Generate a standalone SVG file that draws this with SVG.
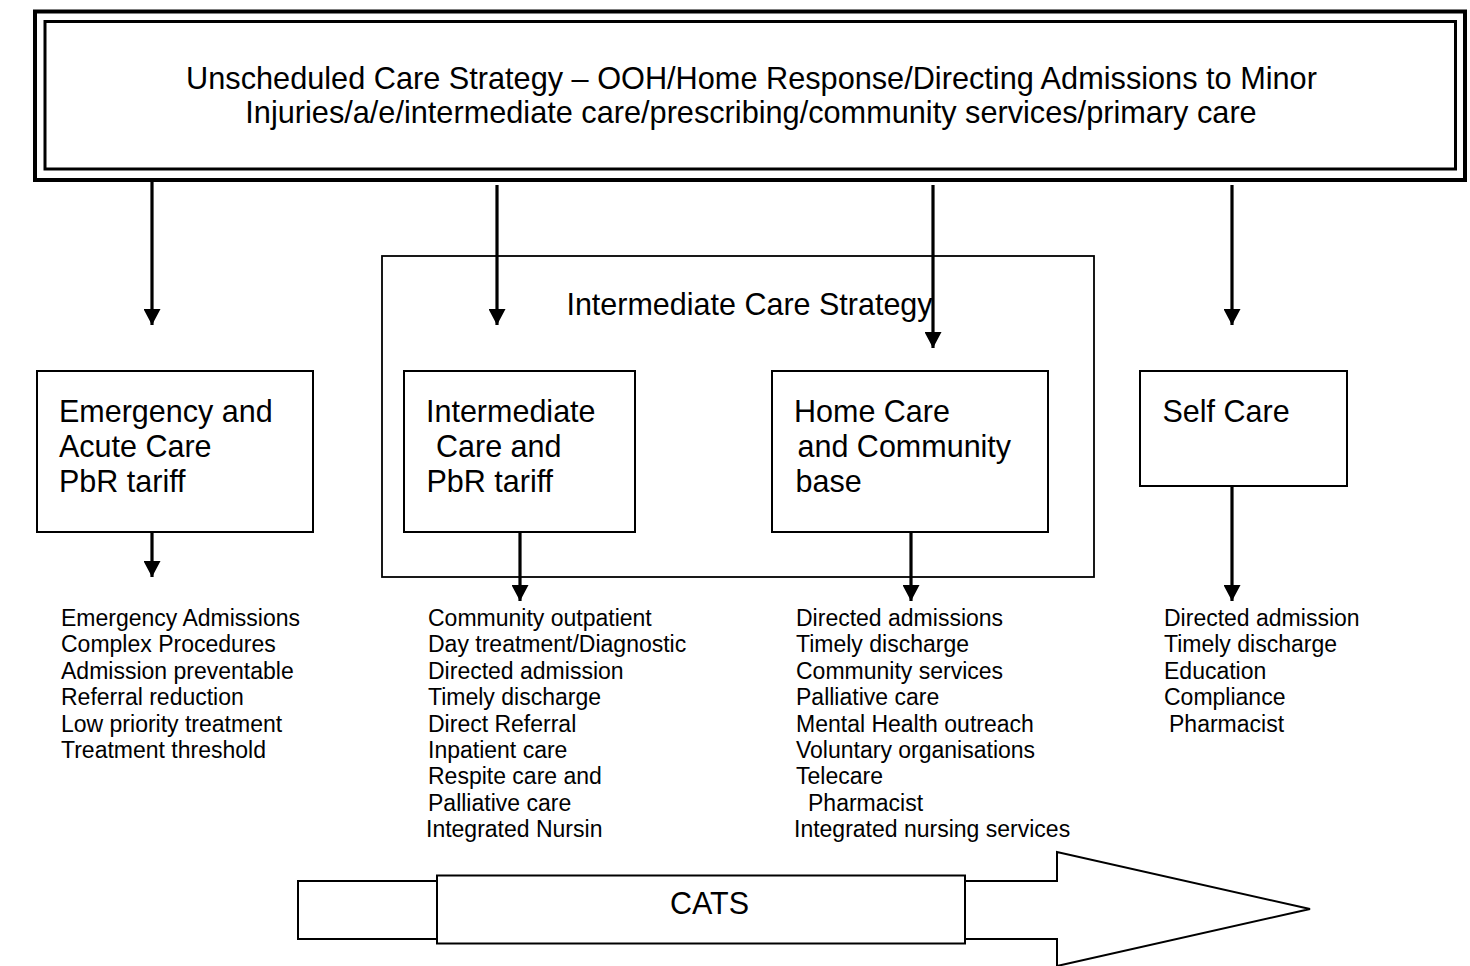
<svg xmlns="http://www.w3.org/2000/svg" width="1470" height="966" viewBox="0 0 1470 966">
<defs>
<style>
.t{font-family:"Liberation Sans",Arial,sans-serif;font-size:30.5px;fill:#000}
.h{font-family:"Liberation Sans",Arial,sans-serif;font-size:30.7px;fill:#000}
.l{font-family:"Liberation Sans",Arial,sans-serif;font-size:23px;fill:#000}
.box{fill:#fff;stroke:#000;stroke-width:2}
.con{stroke:#000;stroke-width:3.2;fill:none;marker-end:url(#ah)}
</style>
<marker id="ah" markerUnits="userSpaceOnUse" markerWidth="17" markerHeight="17" refX="16" refY="8.5" orient="auto" viewBox="0 0 16 17">
<path d="M0,0 L16,8.5 L0,17 z" fill="#000"/>
</marker>
</defs>
<rect width="1470" height="966" fill="#fff"/>

<g id="unscheduled">
<rect x="35" y="11.5" width="1430" height="168.5" fill="#fff" stroke="#000" stroke-width="4"/>
<rect x="45" y="21.5" width="1410.5" height="147.5" fill="none" stroke="#000" stroke-width="3"/>
<text class="h" x="751.5" y="89" text-anchor="middle">Unscheduled Care Strategy – OOH/Home Response/Directing Admissions to Minor</text>
<text class="h" x="751" y="123" text-anchor="middle">Injuries/a/e/intermediate care/prescribing/community services/primary care</text>
</g>

<g id="intermediate-strategy">
<rect x="382" y="256" width="712" height="321" fill="none" stroke="#000" stroke-width="1.8"/>
<text class="t" x="749.5" y="315" text-anchor="middle">Intermediate Care Strategy</text>
</g>

<g id="emergency">
<rect class="box" x="37" y="371" width="276" height="161"/>
<text class="t" x="59" y="422">Emergency and</text>
<text class="t" x="59" y="457">Acute Care</text>
<text class="t" x="59" y="492">PbR tariff</text>
</g>

<g id="intermediate">
<rect class="box" x="404" y="371" width="231" height="161"/>
<text class="t" x="426" y="422">Intermediate</text>
<text class="t" x="436" y="457">Care and</text>
<text class="t" x="426.5" y="492">PbR tariff</text>
</g>

<g id="home">
<rect class="box" x="772" y="371" width="276" height="161"/>
<text class="t" x="794" y="422">Home Care</text>
<text class="t" x="797.5" y="457">and Community</text>
<text class="t" x="795.5" y="492">base</text>
</g>

<g id="self">
<rect class="box" x="1140" y="371" width="207" height="115"/>
<text class="t" x="1162.5" y="422">Self Care</text>
</g>

<g id="emergency-list">
<text class="l" x="61" y="626">Emergency Admissions</text>
<text class="l" x="61" y="652.4">Complex Procedures</text>
<text class="l" x="61" y="678.8">Admission preventable</text>
<text class="l" x="61" y="705.2">Referral reduction</text>
<text class="l" x="61" y="731.6">Low priority treatment</text>
<text class="l" x="61" y="758">Treatment threshold</text>
</g>

<g id="intermediate-list">
<text class="l" x="428" y="626">Community outpatient</text>
<text class="l" x="428" y="652.4">Day treatment/Diagnostic</text>
<text class="l" x="428" y="678.8">Directed admission</text>
<text class="l" x="428" y="705.2">Timely discharge</text>
<text class="l" x="428" y="731.6">Direct Referral</text>
<text class="l" x="428" y="758">Inpatient care</text>
<text class="l" x="428" y="784.4">Respite care and</text>
<text class="l" x="428" y="810.8">Palliative care</text>
<text class="l" x="426" y="837.2">Integrated Nursin</text>
</g>

<g id="home-list">
<text class="l" x="796" y="626">Directed admissions</text>
<text class="l" x="796" y="652.4">Timely discharge</text>
<text class="l" x="796" y="678.8">Community services</text>
<text class="l" x="796" y="705.2">Palliative care</text>
<text class="l" x="796" y="731.6">Mental Health outreach</text>
<text class="l" x="796" y="758">Voluntary organisations</text>
<text class="l" x="796" y="784.4">Telecare</text>
<text class="l" x="808" y="810.8">Pharmacist</text>
<text class="l" x="794" y="837.2">Integrated nursing services</text>
</g>

<g id="self-list">
<text class="l" x="1164" y="626">Directed admission</text>
<text class="l" x="1164" y="652.4">Timely discharge</text>
<text class="l" x="1164" y="678.8">Education</text>
<text class="l" x="1164" y="705.2">Compliance</text>
<text class="l" x="1169" y="731.6">Pharmacist</text>
</g>

<g id="cats">
<polygon points="298,881 1057,881 1057,852 1310,909 1057,966 1057,939 298,939" fill="#fff" stroke="#000" stroke-width="2"/>
<rect x="437" y="875.5" width="528" height="68" fill="#fff" stroke="#000" stroke-width="2"/>
<text class="t" x="709.5" y="914" text-anchor="middle">CATS</text>
</g>

<g id="connectors">
<line class="con" x1="152" y1="182" x2="152" y2="325"/>
<line class="con" x1="497" y1="185" x2="497" y2="325"/>
<line class="con" x1="933" y1="185" x2="933" y2="348"/>
<line class="con" x1="1232" y1="185" x2="1232" y2="325"/>
<line class="con" x1="152" y1="532" x2="152" y2="577"/>
<line class="con" x1="520" y1="532" x2="520" y2="601"/>
<line class="con" x1="911" y1="532" x2="911" y2="601"/>
<line class="con" x1="1232" y1="486" x2="1232" y2="601"/>
</g>
</svg>
